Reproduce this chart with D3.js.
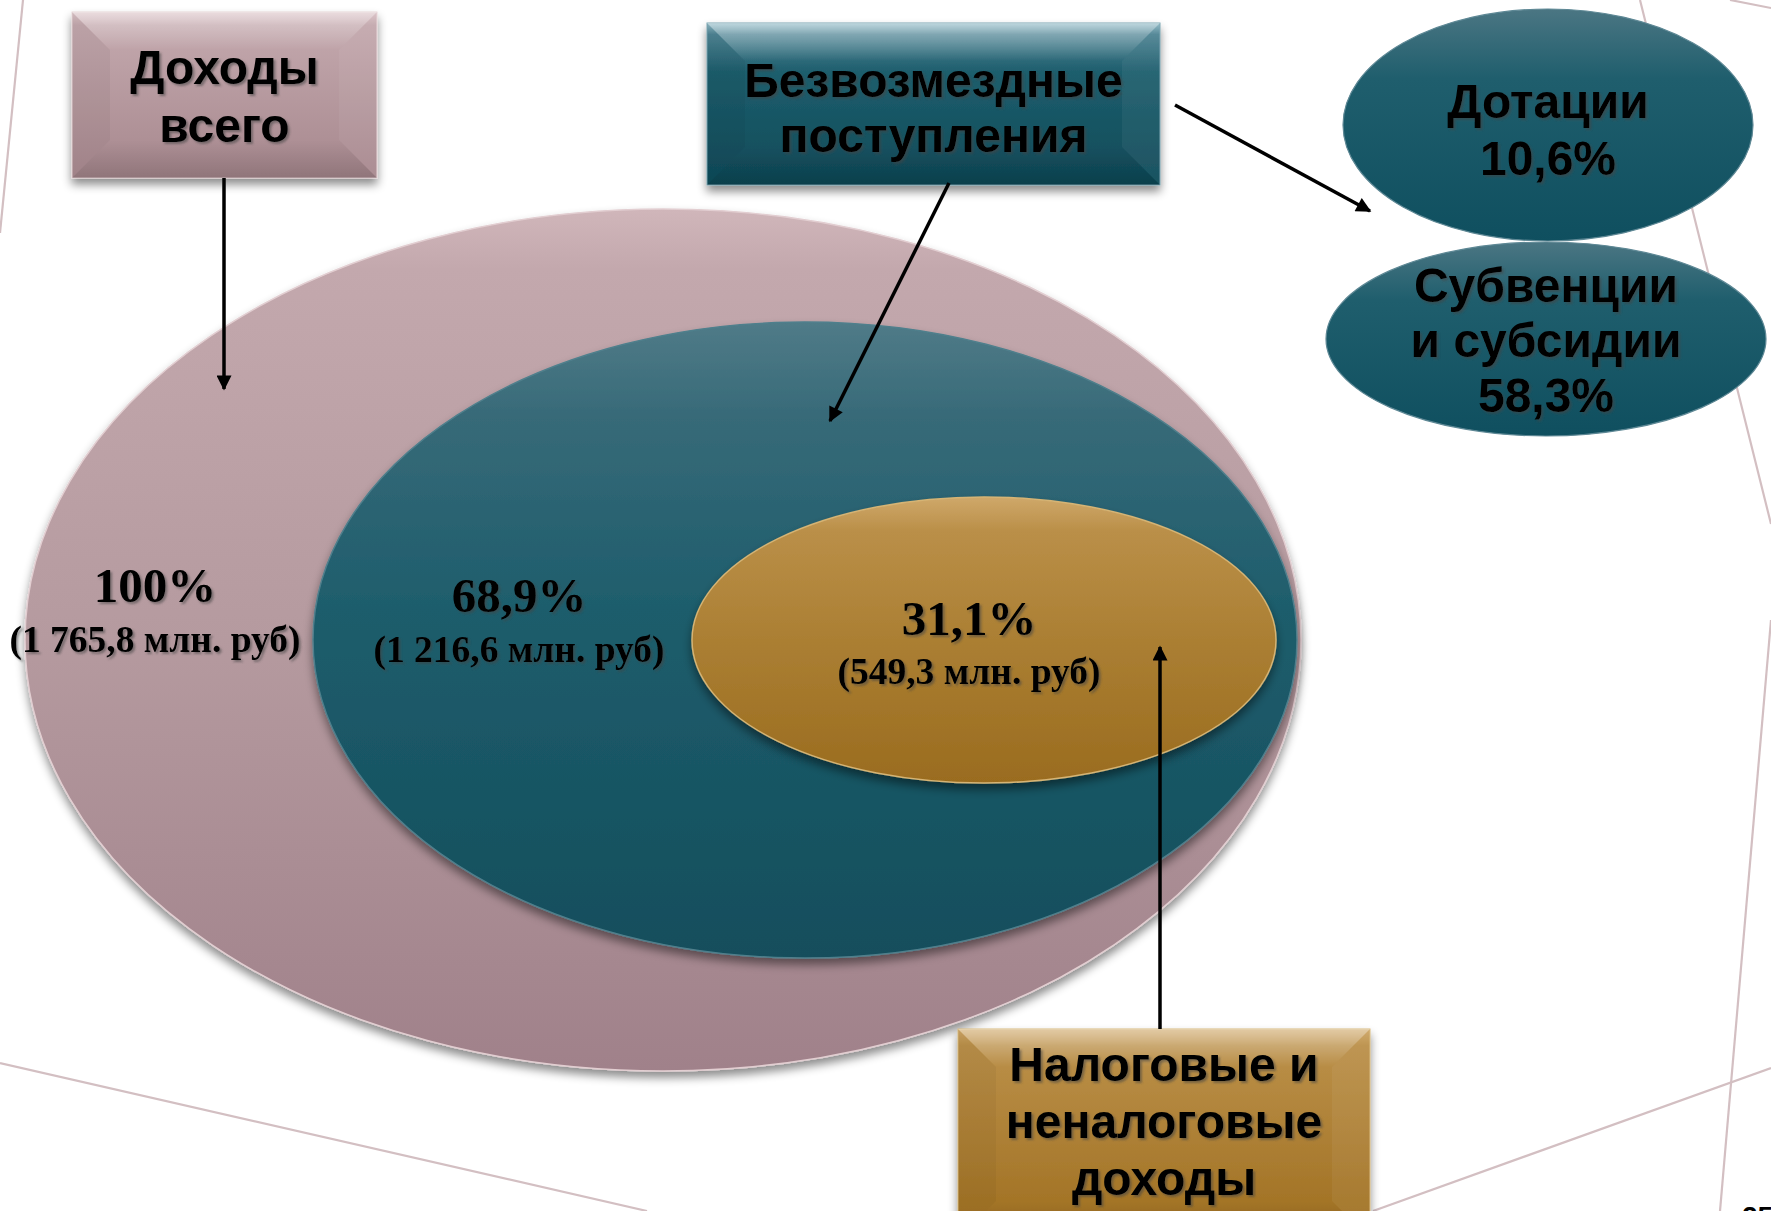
<!DOCTYPE html>
<html><head><meta charset="utf-8">
<script src="https://cdn.jsdelivr.net/npm/d3@7"></script>
<style>html,body{margin:0;padding:0;background:#fff;overflow:hidden} svg{display:block}</style>
</head><body>
<svg id="c" width="1771" height="1211"></svg>
<script>
// ---- data ----
const levelLabels  = ["Доходы\nвсего", "Безвозмездные\nпоступления", "Налоговые и\nненалоговые\nдоходы"];
const levelShares  = [100, 68.9, 31.1];
const levelAmounts = [1765.8, 1216.6, 549.3];
const grantLabels  = ["Дотации", "Субвенции\nи субсидии"];
const grantShares  = [10.6, 58.3];
const pageNumber   = "25";

// ---- formatting ----
const ru = d3.formatLocale({decimal: ",", thousands: " ", grouping: [3], currency: ["", " руб"]});
const pct = v => (Number.isInteger(v) ? ru.format("d")(v) : ru.format(".1f")(v)) + "%";
const amt = v => "(" + ru.format(",.1f")(v) + " млн. руб)";

// ---- layout ----
const svg = d3.select("#c");
const defs = svg.append("defs");

function linGrad(id, stops) {
  const g = defs.append("linearGradient").attr("id", id).attr("x1", 0).attr("y1", 0).attr("x2", 0).attr("y2", 1);
  stops.forEach(([o, c, op]) => g.append("stop").attr("offset", o).attr("stop-color", c).attr("stop-opacity", op == null ? 1 : op));
}
linGrad("gPinkE", [[0, "#d0b6ba"], [0.07, "#c3a8ad"], [0.5, "#b59a9f"], [1, "#a0818a"]]);
linGrad("gTealE", [[0, "#507b88"], [0.15, "#376a78"], [0.45, "#1e5d6c"], [1, "#134e5c"]]);
linGrad("gGoldE", [[0, "#cfa86a"], [0.12, "#ba8f48"], [0.5, "#ab7f33"], [1, "#9a6c1f"]]);
linGrad("gPinkB", [[0, "#dcc4c8"], [0.08, "#c3a8ad"], [1, "#a7888e"]]);
linGrad("gTealB", [[0, "#93bcc8"], [0.07, "#4f8494"], [0.3, "#1e5e6d"], [1, "#0f4a58"]]);
linGrad("gGoldB", [[0, "#cfa768"], [0.08, "#bb9049"], [1, "#9e6e1f"]]);
linGrad("gGrant", [[0, "#4b7683"], [0.3, "#1f5e6d"], [1, "#0f4f5f"]]);
linGrad("gHiTop", [[0, "#fff", 0.4], [1, "#fff", 0]]);
linGrad("gDkBot", [[0, "#000", 0], [1, "#000", 0.14]]);

const sh = defs.append("filter").attr("id", "shadow").attr("x", "-10%").attr("y", "-10%").attr("width", "120%").attr("height", "130%");
sh.append("feDropShadow").attr("dx", 0).attr("dy", 6).attr("stdDeviation", 5).attr("flood-color", "#000").attr("flood-opacity", 0.45);
const tsh = defs.append("filter").attr("id", "tshadow").attr("x", "-5%").attr("y", "-20%").attr("width", "115%").attr("height", "150%");
tsh.append("feDropShadow").attr("dx", 2).attr("dy", 2).attr("stdDeviation", 1.3).attr("flood-color", "#444").attr("flood-opacity", 0.55);

const mk = defs.append("marker").attr("id", "arr").attr("viewBox", "0 0 10 10").attr("refX", 9).attr("refY", 5)
  .attr("markerUnits", "userSpaceOnUse").attr("markerWidth", 18).attr("markerHeight", 15).attr("orient", "auto");
mk.append("path").attr("d", "M0,0 L10,5 L0,10 z").attr("fill", "#000");

// background decorative lines
const bgLines = [[23, 0, 0, 233], [0, 1063, 647, 1211], [1373, 1211, 1771, 1068], [1640, 0, 1771, 524], [1771, 620, 1720, 1211], [1730, 0, 1771, 8]];
svg.append("g").selectAll("line").data(bgLines).join("line")
  .attr("x1", d => d[0]).attr("y1", d => d[1]).attr("x2", d => d[2]).attr("y2", d => d[3])
  .attr("stroke", "#d3bfc2").attr("stroke-width", 2.2);

// nested ellipses (one per level)
const ellGeom = [
  {cx: 663, cy: 640, rx: 638, ry: 431, fill: "url(#gPinkE)", rim: "#e2ced1"},
  {cx: 805, cy: 640, rx: 492, ry: 318, fill: "url(#gTealE)", rim: "#4f7f8c"},
  {cx: 984, cy: 640, rx: 292, ry: 143, fill: "url(#gGoldE)", rim: "#d6b474"}
];
const valPos = [{x: 155, y: 602, dy: 50}, {x: 519, y: 612, dy: 50}, {x: 969, y: 635, dy: 49}];

const levelIdx = d3.range(levelShares.length);
const gE = svg.append("g");
gE.selectAll("ellipse").data(levelIdx).join("ellipse")
  .attr("cx", i => ellGeom[i].cx).attr("cy", i => ellGeom[i].cy)
  .attr("rx", i => ellGeom[i].rx).attr("ry", i => ellGeom[i].ry)
  .attr("fill", i => ellGeom[i].fill).attr("stroke", i => ellGeom[i].rim).attr("stroke-width", 1.5)
  .attr("filter", "url(#shadow)");

const gV = svg.append("g").attr("font-family", "'Liberation Serif','Times New Roman',serif").attr("font-weight", "bold")
  .attr("text-anchor", "middle").attr("fill", "#000").attr("filter", "url(#tshadow)");
levelIdx.forEach(i => {
  gV.append("text").attr("x", valPos[i].x).attr("y", valPos[i].y).attr("font-size", 49).text(pct(levelShares[i]));
  gV.append("text").attr("x", valPos[i].x).attr("y", valPos[i].y + valPos[i].dy).attr("font-size", 37.5).text(amt(levelAmounts[i]));
});

// grant ellipses (right)
const grantGeom = [
  {cx: 1548, cy: 125, rx: 205, ry: 116, y0: 118, lh: 57},
  {cx: 1546, cy: 339, rx: 220, ry: 97, y0: 302, lh: 55}
];
const gG = svg.append("g");
grantShares.forEach((v, i) => {
  const g = grantGeom[i];
  gG.append("ellipse").attr("cx", g.cx).attr("cy", g.cy).attr("rx", g.rx).attr("ry", g.ry)
    .attr("fill", "url(#gGrant)").attr("stroke", "#5e8895").attr("stroke-width", 1.2);
  const lines = grantLabels[i].split("\n").concat([pct(v)]);
  const t = gG.append("g").attr("font-family", "'Liberation Sans',Arial,sans-serif").attr("font-weight", "bold")
    .attr("font-size", 48).attr("text-anchor", "middle").attr("filter", "url(#tshadow)");
  lines.forEach((s, k) => t.append("text").attr("x", g.cx).attr("y", g.y0 + k * g.lh).text(s));
});

// label boxes
const boxGeom = [
  {x: 72, y: 12, w: 305, h: 166, fill: "url(#gPinkB)", rim: "#e6d3d6", y0: 84, lh: 58},
  {x: 707, y: 23, w: 453, h: 162, fill: "url(#gTealB)", rim: "#7aa5b2", y0: 97, lh: 55},
  {x: 958, y: 1029, w: 412, h: 210, fill: "url(#gGoldB)", rim: "#d8b97c", y0: 1081, lh: 57}
];
const gB = svg.append("g");
levelIdx.forEach(i => {
  const b = boxGeom[i], bv = 38;
  const g = gB.append("g");
  g.append("rect").attr("x", b.x).attr("y", b.y).attr("width", b.w).attr("height", b.h)
    .attr("fill", b.fill).attr("stroke", b.rim).attr("stroke-width", 1).attr("filter", "url(#shadow)");
  const x0 = b.x, y0 = b.y, x1 = b.x + b.w, y1 = b.y + b.h;
  // bevel facets
  g.append("polygon").attr("points", [[x0, y0], [x0 + bv, y0 + bv], [x0 + bv, y1 - bv], [x0, y1]].join(" "))
    .attr("fill", "#000").attr("opacity", 0.04);
  g.append("polygon").attr("points", [[x1, y0], [x1 - bv, y0 + bv], [x1 - bv, y1 - bv], [x1, y1]].join(" "))
    .attr("fill", "#fff").attr("opacity", 0.05);
  g.append("polygon").attr("points", [[x0, y0], [x1, y0], [x1 - bv, y0 + bv], [x0 + bv, y0 + bv]].join(" "))
    .attr("fill", "url(#gHiTop)");
  g.append("polygon").attr("points", [[x0, y1], [x1, y1], [x1 - bv, y1 - bv], [x0 + bv, y1 - bv]].join(" "))
    .attr("fill", "url(#gDkBot)");
  const t = g.append("g").attr("font-family", "'Liberation Sans',Arial,sans-serif").attr("font-weight", "bold")
    .attr("font-size", 48).attr("text-anchor", "middle").attr("filter", "url(#tshadow)");
  levelLabels[i].split("\n").forEach((s, k) => t.append("text").attr("x", b.x + b.w / 2).attr("y", b.y0 + k * b.lh).text(s));
});

// arrows
const arrows = [[224, 178, 224, 389], [949, 183, 830, 421], [1175, 105, 1370, 211], [1160, 1029, 1160, 647]];
svg.append("g").selectAll("line").data(arrows).join("line")
  .attr("x1", d => d[0]).attr("y1", d => d[1]).attr("x2", d => d[2]).attr("y2", d => d[3])
  .attr("stroke", "#000").attr("stroke-width", 3.5).attr("marker-end", "url(#arr)");

// page number (cut off at bottom edge, as in the original slide)
svg.append("text").attr("x", 1742).attr("y", 1226).attr("font-family", "'Liberation Sans',Arial,sans-serif")
  .attr("font-weight", "bold").attr("font-size", 28).text(pageNumber);
</script>
</body></html>
